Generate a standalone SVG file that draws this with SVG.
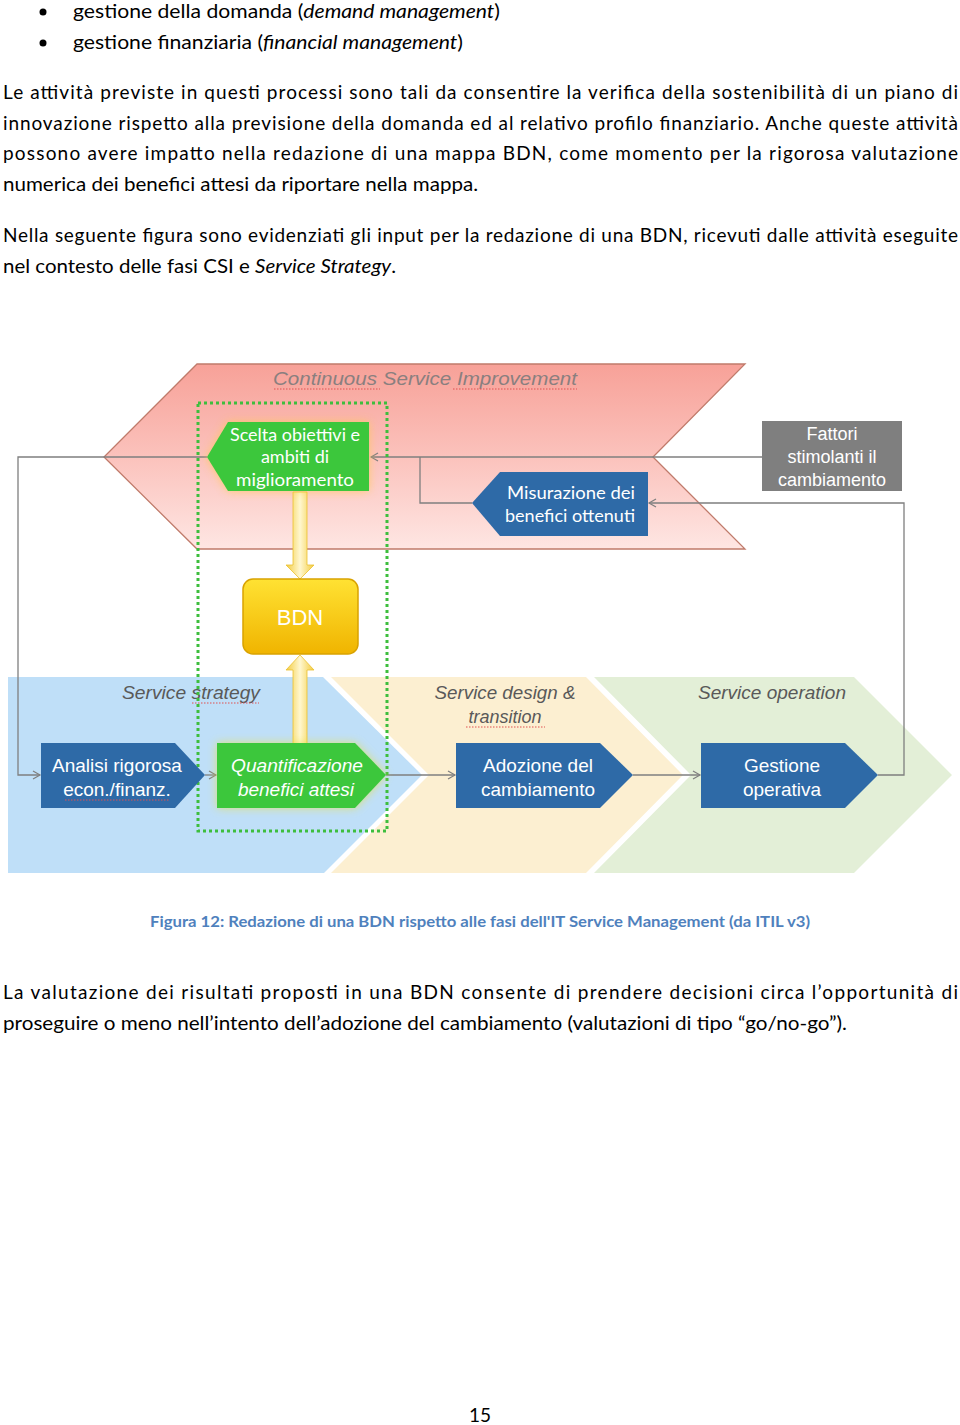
<svg xmlns="http://www.w3.org/2000/svg" width="960" height="1425" viewBox="0 0 960 1425">
<defs>
<style>
.body{font-family:Lato,"Open Sans","Liberation Sans",sans-serif;font-size:19px;fill:#000}
.it{font-style:italic}
.cap{font-family:Lato,"Liberation Sans",sans-serif;font-size:15px;font-weight:bold;fill:#4F81BD}
.lbl{font-family:"Liberation Sans",Arial,sans-serif;font-size:19px;fill:#fff;text-anchor:middle}
.lblf{font-family:"Liberation Sans",Arial,sans-serif;font-size:18px;fill:#fff;text-anchor:middle}
.lblc{font-family:Lato,"Liberation Sans",sans-serif;font-size:18px;fill:#fff;text-anchor:middle}
.phase{font-family:"Liberation Sans",Arial,sans-serif;font-size:18px;font-style:italic;fill:#595959;text-anchor:middle}
.conn{fill:none;stroke:#7F7F7F;stroke-width:1.3}
.blue{fill:#2E6AA7}
.green{fill:#3CC73C}
.sq{fill:none;stroke:#E05050;stroke-width:1;stroke-dasharray:1.5,1.5}
</style>
<linearGradient id="pink" x1="0" y1="0" x2="0" y2="1">
<stop offset="0" stop-color="#F7A198"/>
<stop offset="0.5" stop-color="#FBC2BC"/>
<stop offset="1" stop-color="#FEE6E3"/>
</linearGradient>
<linearGradient id="gold" x1="0" y1="0" x2="0" y2="1">
<stop offset="0" stop-color="#FFE233"/>
<stop offset="1" stop-color="#F0B400"/>
</linearGradient>
<linearGradient id="shaft" x1="0" y1="0" x2="1" y2="0">
<stop offset="0" stop-color="#F3CC40"/>
<stop offset="0.5" stop-color="#FFF7CF"/>
<stop offset="1" stop-color="#F3CC40"/>
</linearGradient>
<filter id="glow" x="-30%" y="-30%" width="160%" height="160%">
<feGaussianBlur stdDeviation="5"/>
</filter>
<marker id="arr" markerWidth="10" markerHeight="10" refX="8" refY="5" orient="auto" markerUnits="userSpaceOnUse">
<path d="M1,1 L8,5 L1,9" fill="none" stroke="#7F7F7F" stroke-width="1.2"/>
</marker>
</defs>
<rect width="960" height="1425" fill="#fff"/>

<g id="text-top">
<circle cx="43" cy="12" r="3.5" fill="#000"/>
<circle cx="43" cy="43" r="3.5" fill="#000"/>
<text class="body" x="73" y="18" textLength="427" lengthAdjust="spacingAndGlyphs">gestione della domanda (<tspan class="it">demand management</tspan>)</text>
<text class="body" x="73" y="49" textLength="390" lengthAdjust="spacingAndGlyphs">gestione finanziaria (<tspan class="it">financial management</tspan>)</text>
<text class="body" x="3" y="99" textLength="955" lengthAdjust="spacing">Le attività previste in questi processi sono tali da consentire la verifica della sostenibilità di un piano di</text>
<text class="body" x="3" y="130" textLength="955" lengthAdjust="spacing">innovazione rispetto alla previsione della domanda ed al relativo profilo finanziario. Anche queste attività</text>
<text class="body" x="3" y="160" textLength="955" lengthAdjust="spacing">possono avere impatto nella redazione di una mappa BDN, come momento per la rigorosa valutazione</text>
<text class="body" x="3" y="191" textLength="475" lengthAdjust="spacingAndGlyphs">numerica dei benefici attesi da riportare nella mappa.</text>
<text class="body" x="3" y="242" textLength="955" lengthAdjust="spacing">Nella seguente figura sono evidenziati gli input per la redazione di una BDN, ricevuti dalle attività eseguite</text>
<text class="body" x="3" y="273" textLength="393" lengthAdjust="spacingAndGlyphs">nel contesto delle fasi CSI e <tspan class="it">Service Strategy</tspan>.</text>
</g>

<g id="bands">
<polygon id="csi-band" points="197,364 745,364 653,457 745,549 197,549 104,457" fill="url(#pink)" stroke="#C07B6B" stroke-width="1.3"/>
<polygon id="strategy-band" points="8,677 323,677 422,775 324,873 8,873" fill="#BFDFF8"/>
<polygon id="design-band" points="331,677 586,677 683,775 586,873 331,873 429,775" fill="#FCEFD1"/>
<polygon id="operation-band" points="594,677 854,677 952,775 854,873 594,873 691,775" fill="#E3EFD7"/>
<text class="phase" x="425" y="385" style="fill:#8a7f7f;font-size:19px" textLength="304" lengthAdjust="spacingAndGlyphs">Continuous Service Improvement</text>
<path class="sq" d="M274,389 H380 M453,389 H577"/>
<text class="phase" x="191" y="699" textLength="138" lengthAdjust="spacingAndGlyphs">Service strategy</text>
<path class="sq" d="M192,703 H259"/>
<text class="phase" x="505" y="699" textLength="141" lengthAdjust="spacingAndGlyphs">Service design &amp;</text>
<text class="phase" x="505" y="723">transition</text>
<path class="sq" d="M466,727 H545"/>
<text class="phase" x="772" y="699" textLength="148" lengthAdjust="spacingAndGlyphs">Service operation</text>
</g>

<g id="connectors">
<path class="conn" d="M762,457 H371" marker-end="url(#arr)"/>
<path class="conn" d="M472,503 H420 V457"/>
<path class="conn" d="M207,457 H18 V775 H40" marker-end="url(#arr)"/>
<path class="conn" d="M205,775 H216" marker-end="url(#arr)"/>
<path class="conn" d="M386,775 H455" marker-end="url(#arr)"/>
<path class="conn" d="M633,775 H700" marker-end="url(#arr)"/>
<path class="conn" d="M878,775 H904 V503 H649" marker-end="url(#arr)"/>
</g>

<g id="bdn-focus">
<rect x="198" y="403" width="189" height="428" fill="none" stroke="#3DBE3D" stroke-width="3" stroke-dasharray="3,3"/>
</g>

<g id="arrow-down">
<path d="M293,492 H307 V565 H314 L300,579 L286,565 H293 Z" fill="url(#shaft)" stroke="#EBC030" stroke-width="0.8"/>
</g>
<g id="arrow-up">
<path d="M300,655 L314,670 H307 V745 H293 V670 H286 Z" fill="url(#shaft)" stroke="#EBC030" stroke-width="0.8"/>
</g>

<g id="node-scelta">
<polygon points="207,457 228,422 369,422 369,491 228,491" fill="#FFC850" opacity="0.75" filter="url(#glow)"/>
<polygon class="green" points="207,457 228,422 369,422 369,491 228,491"/>
<text class="lblc" x="295" y="441" textLength="130" lengthAdjust="spacingAndGlyphs">Scelta obiettivi e</text>
<text class="lblc" x="295" y="463">ambiti di</text>
<text class="lblc" x="295" y="486" textLength="118" lengthAdjust="spacingAndGlyphs">miglioramento</text>
</g>

<g id="node-misurazione">
<polygon class="blue" points="472,503 500,472 648,472 648,536 500,536"/>
<text class="lblc" x="571" y="499" textLength="128" lengthAdjust="spacingAndGlyphs">Misurazione dei</text>
<text class="lblc" x="570" y="522" textLength="130" lengthAdjust="spacingAndGlyphs">benefici ottenuti</text>
</g>

<g id="node-fattori">
<rect x="762" y="421" width="140" height="70" fill="#7F7F7F"/>
<text class="lblf" x="832" y="440">Fattori</text>
<text class="lblf" x="832" y="463">stimolanti il</text>
<text class="lblf" x="832" y="486">cambiamento</text>
</g>

<g id="node-bdn">
<rect x="243" y="579" width="115" height="75" rx="10" fill="url(#gold)" stroke="#D9A200" stroke-width="1.5"/>
<text class="lbl" x="300" y="625" style="font-size:22px">BDN</text>
</g>

<g id="node-analisi">
<polygon class="blue" points="41,743 175,743 205,775 175,808 41,808"/>
<text class="lbl" x="117" y="772">Analisi rigorosa</text>
<text class="lbl" x="117" y="796">econ./finanz.</text>
<path class="sq" d="M65,800 H170"/>
</g>

<g id="node-quantificazione">
<polygon points="217,743 355,743 386,775 355,808 217,808" fill="#E8E040" opacity="0.7" filter="url(#glow)"/>
<polygon class="green" points="217,743 355,743 386,775 355,808 217,808"/>
<text class="lbl" x="297" y="772" style="font-style:italic" textLength="132" lengthAdjust="spacingAndGlyphs">Quantificazione</text>
<text class="lbl" x="296" y="796" style="font-style:italic">benefici attesi</text>
</g>

<g id="node-adozione">
<polygon class="blue" points="456,743 600,743 633,775 600,808 456,808"/>
<text class="lbl" x="538" y="772">Adozione del</text>
<text class="lbl" x="538" y="796">cambiamento</text>
</g>

<g id="node-gestione">
<polygon class="blue" points="701,743 845,743 878,775 845,808 701,808"/>
<text class="lbl" x="782" y="772">Gestione</text>
<text class="lbl" x="782" y="796">operativa</text>
</g>

<g id="text-bottom">
<text class="cap" x="150" y="927" textLength="660" lengthAdjust="spacingAndGlyphs">Figura 12: Redazione di una BDN rispetto alle fasi dell'IT Service Management (da ITIL v3)</text>
<text class="body" x="3" y="999" textLength="955" lengthAdjust="spacing">La valutazione dei risultati proposti in una BDN consente di prendere decisioni circa l’opportunità di</text>
<text class="body" x="3" y="1030" textLength="844" lengthAdjust="spacingAndGlyphs">proseguire o meno nell’intento dell’adozione del cambiamento (valutazioni di tipo “go/no-go”).</text>
<text class="body" x="480" y="1422" text-anchor="middle">15</text>
</g>
</svg>
